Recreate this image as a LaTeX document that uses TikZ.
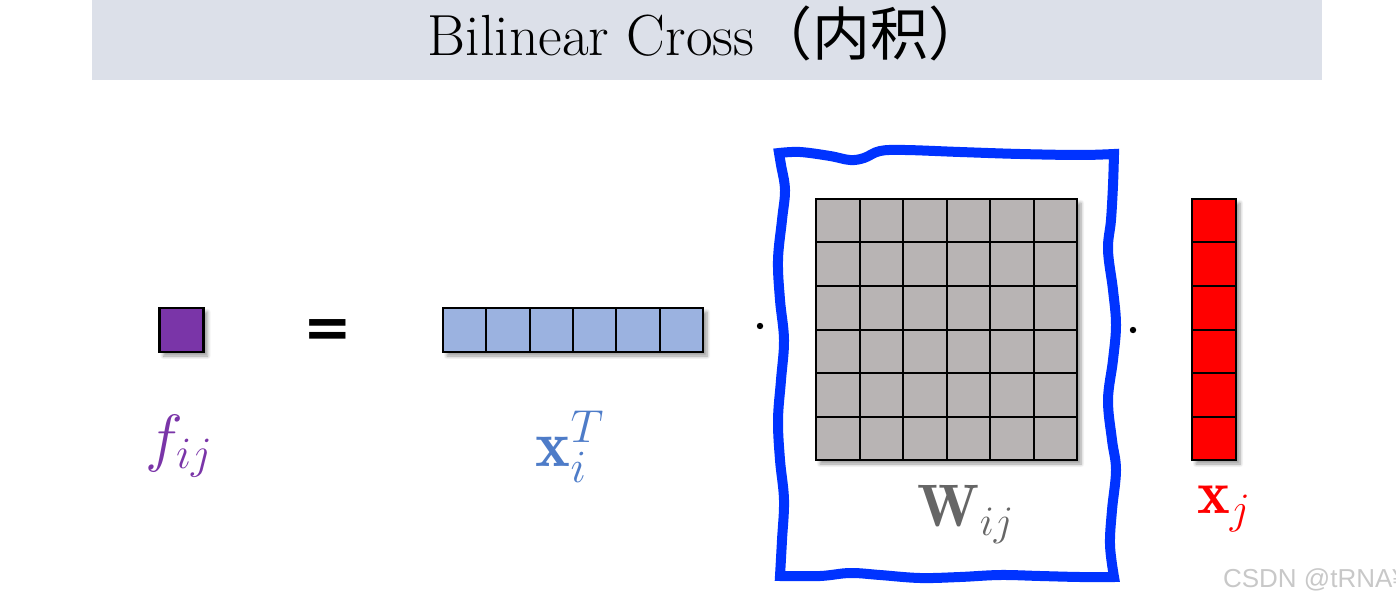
\RequirePackage{fix-cm}
\documentclass[tikz,border=0pt]{standalone}
\usepackage{amsmath}
\usepackage{fontspec}
\newfontfamily\cjk{Noto Sans CJK SC}
\newfontfamily\wmfont{Liberation Sans}
\newfontfamily\eqfont{DejaVu Sans}
\usepackage{tikz}
\usetikzlibrary{positioning,shadows.blur}
\definecolor{TitleBg}{RGB}{220,224,233}
\definecolor{Fc}{RGB}{122,53,168}
\definecolor{Xic}{RGB}{155,178,224}
\definecolor{XiText}{RGB}{78,124,200}
\definecolor{Wc}{RGB}{184,180,180}
\definecolor{WText}{RGB}{102,102,102}
\definecolor{FrameBlue}{RGB}{0,51,255}
\definecolor{WmGray}{RGB}{200,200,200}
\tikzset{
  vecbox/.style={draw=black,line width=1.2pt,inner sep=0pt,
                 blur shadow={shadow xshift=2pt,shadow yshift=-2pt,shadow blur steps=6}},
  cellline/.style={black,line width=1pt},
  lbl/.style={font=\fontsize{30}{36}\selectfont,inner sep=0pt},
  dotmark/.style={circle,fill=black,inner sep=0pt,minimum size=3.2pt},
  frame/.style={FrameBlue,line width=5pt,line join=miter},
}

\begin{document}
\begin{tikzpicture}[x=0.5pt,y=-0.5pt]
  \useasboundingbox (0,0) rectangle (1396,604);
  % title band
  \node[fill=TitleBg,minimum width=615pt,minimum height=40pt,inner sep=0pt] (band) at (707,40) {};
  \node[font=\fontsize{29}{33}\selectfont] (title) at (707,33) {Bilinear Cross{\cjk（内积）}};

  % f_ij
  \node[vecbox,fill=Fc,minimum size=22pt] (f) at (181.5,330) {};
  \node[lbl,text=Fc,font=\fontsize{32}{36}\selectfont] (flbl) at (179,446) {$f_{ij}$};
  \node[font=\eqfont\bfseries\fontsize{29}{33}\selectfont] (eq) at (328,334) {=};

  % x_i^T
  \node[vecbox,fill=Xic,minimum width=130pt,minimum height=22pt] (xi) at (573,330) {};
  \foreach \i in {1,...,5}
    \draw[cellline] (443+\i*43.33,308) -- (443+\i*43.33,352);
  \node[lbl,text=XiText,font=\fontsize{33}{38}\selectfont] (xilbl) at (570,447) {$\mathbf{x}_i^T$};
  \node[dotmark] (d1) at (760,326) {};

  % W_ij in the wavy frame
  \draw[frame] (779,153) plot[smooth,tension=0.6] coordinates {(779,153) (800,152) (830,156) (850,160) (864,158) (880,151) (905,150) (960,152) (1020,154) (1080,155) (1114,154)}
    -- plot[smooth,tension=0.6] coordinates {(1114,154) (1113,185) (1111,220) (1108,250) (1113,290) (1116,325) (1113,360) (1108,400) (1112,440) (1116,470) (1112,510) (1110,545) (1114,577)}
    -- plot[smooth,tension=0.6] coordinates {(1114,577) (1080,577) (1040,576) (1000,575) (960,577) (920,578) (880,575) (850,573) (820,576) (780,576)}
    -- plot[smooth,tension=0.6] coordinates {(780,576) (782,540) (784,500) (780,460) (778,420) (781,380) (784,340) (780,300) (778,260) (782,220) (785,190) (781,165) (779,153)}
    -- cycle;
  \node[vecbox,fill=Wc,minimum size=130.5pt] (W) at (946.5,329.5) {};
  \foreach \i in {1,...,5} {
    \draw[cellline] (816+\i*43.5,199) -- (816+\i*43.5,460);
    \draw[cellline] (816,199+\i*43.5) -- (1077,199+\i*43.5);
  }
  \node[lbl,text=WText,font=\fontsize{30}{36}\selectfont] (Wlbl) at (966,514) {$\mathbf{W}_{ij}$};
  \node[dotmark] (d2) at (1133,330) {};

  % x_j
  \node[vecbox,fill=red,minimum width=22pt,minimum height=130.5pt] (xj) at (1214,329.5) {};
  \foreach \i in {1,...,5}
    \draw[cellline] (1192,199+\i*43.5) -- (1236,199+\i*43.5);
  \node[lbl,text=red,font=\fontsize{31}{36}\selectfont] (xjlbl) at (1224,509) {$\mathbf{x}_j$};

  % watermark
  \node[anchor=west,text=WmGray,font=\wmfont\fontsize{13}{15}\selectfont] (wm) at (1216,580) {CSDN @tRNA¥};
\end{tikzpicture}
\end{document}
